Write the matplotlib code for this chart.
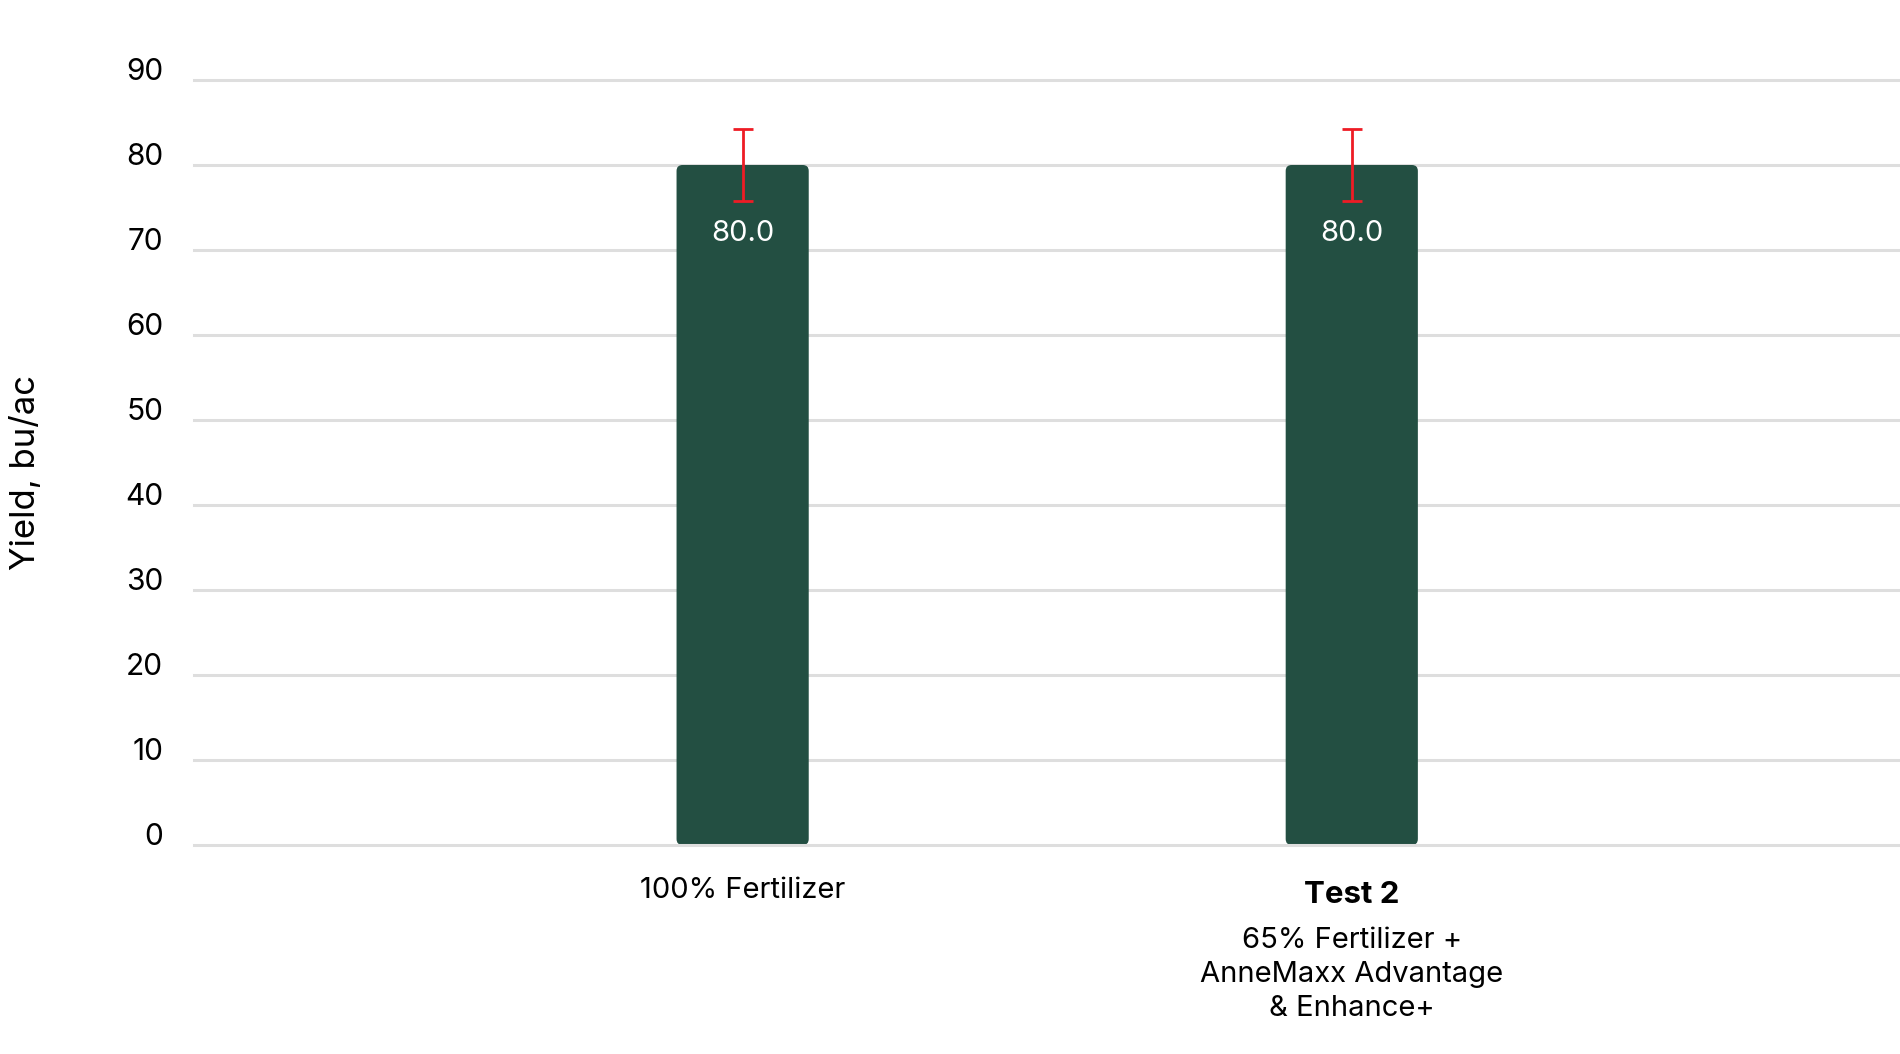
import numpy as np
import matplotlib.pyplot as plt
from matplotlib.patches import FancyBboxPatch

plt.rcParams['font.family'] = ['Inter', 'DejaVu Sans']

# Chart data
categories = ['100% Fertilizer', 'Test 2']
subtitles = ['', '65% Fertilizer +\nAnneMaxx Advantage\n& Enhance+']
yields = [80.0, 80.0]
errors = [4.2, 4.2]
yticks = [0, 10, 20, 30, 40, 50, 60, 70, 80, 90]

bar_color = '#234f42'
err_color = '#ee1c25'
grid_color = '#dedede'

fig = plt.figure(figsize=(19, 10.54), dpi=100)
ax = fig.add_axes([0.102, 0.1983, 0.898, 0.7258])

x = np.arange(len(categories))
ax.set_xlim(-0.901, 1.90)
ax.set_ylim(0, 90)

# gridlines
for t in yticks:
    ax.axhline(t, color=grid_color, lw=2.2, zorder=0 if t > 0 else 3, clip_on=False)

# bars with slightly rounded corners
bars = ax.bar(x, yields, width=0.217, color=bar_color, zorder=2)
px_x = 1706 / 2.801
px_y = 765 / 90
for b in bars:
    b.set_visible(False)
    r = 6 / px_x
    ax.add_patch(FancyBboxPatch((b.get_x(), b.get_y()), b.get_width(), b.get_height(),
                                boxstyle=f'round,pad=0,rounding_size={r}',
                                mutation_aspect=px_x / px_y,
                                fc=bar_color, ec='none', zorder=2))

ax.errorbar(x, yields, yerr=errors, fmt='none', ecolor=err_color,
            elinewidth=2.0, capsize=7, capthick=2.0, zorder=4)

for xi, v in zip(x, yields):
    ax.annotate(f'{v:.1f}', xy=(xi, v), xytext=(0, -49), textcoords='offset points',
                ha='center', va='center', color='white', fontsize=21, zorder=5)

# x labels
for xi, cat, sub in zip(x, categories, subtitles):
    if sub:
        ax.annotate(cat, xy=(xi, 0), xycoords=('data', 'axes fraction'),
                    xytext=(0, -36), textcoords='offset points',
                    ha='center', va='center', fontsize=22.5, fontweight='bold')
        ax.annotate(sub, xy=(xi, 0), xycoords=('data', 'axes fraction'),
                    xytext=(0, -59), textcoords='offset points',
                    ha='center', va='top', fontsize=21, linespacing=1.33)
    else:
        ax.annotate(cat, xy=(xi, 0), xycoords=('data', 'axes fraction'),
                    xytext=(0, -33), textcoords='offset points',
                    ha='center', va='center', fontsize=21)

ax.set_xticks([])
ax.set_yticks(yticks)
ax.set_yticklabels([str(t) for t in yticks], fontsize=21.5)
for lbl in ax.get_yticklabels():
    lbl.set_verticalalignment('baseline')
ax.tick_params(axis='y', length=0, pad=22)
for s in ax.spines.values():
    s.set_visible(False)

fig.text(0.0135, 0.552, 'Yield, bu/ac', rotation=90, ha='center', va='center', fontsize=25)

fig.savefig('out.png', dpi=100)
